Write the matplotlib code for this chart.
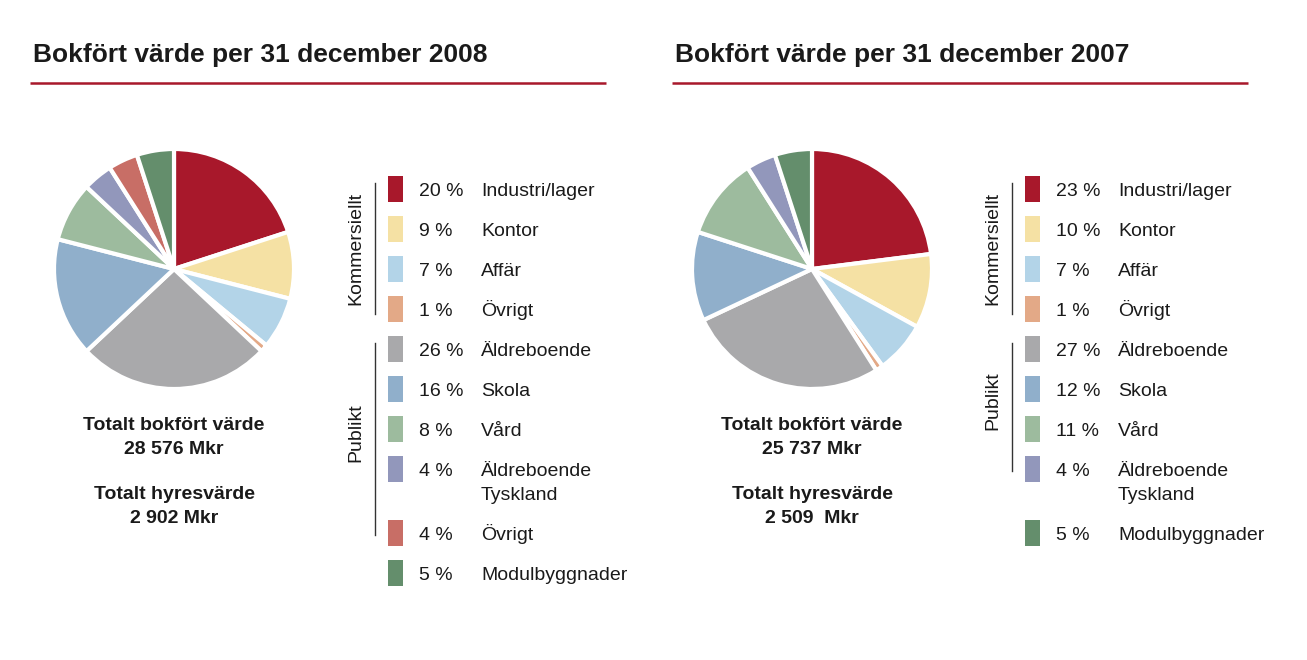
import matplotlib
matplotlib.use("Agg")
import matplotlib.pyplot as plt
from matplotlib.patches import Rectangle

plt.rcParams['font.family'] = ['Liberation Sans', 'DejaVu Sans']

# ---------------- data ----------------
titles = ["Bokfört värde per 31 december 2008", "Bokfört värde per 31 december 2007"]

cats_2008 = ["Industri/lager", "Kontor", "Affär", "Övrigt", "Äldreboende", "Skola",
             "Vård", "Äldreboende\nTyskland", "Övrigt", "Modulbyggnader"]
vals_2008 = [20, 9, 7, 1, 26, 16, 8, 4, 4, 5]
cols_2008 = ["#A8182B", "#F5E1A4", "#B3D4E8", "#E3A987", "#A9A9AB", "#90AFCB",
             "#9DBB9E", "#9297BB", "#C86E66", "#648E6C"]

cats_2007 = ["Industri/lager", "Kontor", "Affär", "Övrigt", "Äldreboende", "Skola",
             "Vård", "Äldreboende\nTyskland", "Modulbyggnader"]
vals_2007 = [23, 10, 7, 1, 27, 12, 11, 4, 5]
cols_2007 = ["#A8182B", "#F5E1A4", "#B3D4E8", "#E3A987", "#A9A9AB", "#90AFCB",
             "#9DBB9E", "#9297BB", "#648E6C"]

totals_2008 = ["Totalt bokfört värde", "28 576 Mkr", "Totalt hyresvärde", "2 902 Mkr"]
totals_2007 = ["Totalt bokfört värde", "25 737 Mkr", "Totalt hyresvärde", "2 509  Mkr"]

group_labels = ["Kommersiellt", "Publikt"]

# ---------------- figure ----------------
W, H = 1307, 660
fig = plt.figure(figsize=(W / 100, H / 100), dpi=100)
ov = fig.add_axes([0, 0, 1, 1])
ov.set_xlim(0, W)
ov.set_ylim(H, 0)
ov.axis("off")

RED = "#A8182B"
TXT = "#1a1a1a"
FS = 14


def panel(x0, pie_cx, title, cats, vals, cols, totals, leg_x, pub_end_row):
    # title and rule
    ov.text(x0 + 3, 62, title, fontsize=19, fontweight="bold", color=TXT,
            ha="left", va="baseline")
    ov.plot([x0, x0 + 576], [83, 83], color=RED, lw=1.8, solid_capstyle="butt")

    # pie
    cy, r = 269, 120
    pax = fig.add_axes([(pie_cx - r) / W, (H - cy - r) / H, 2 * r / W, 2 * r / H])
    pax.pie(vals, colors=cols, startangle=90, counterclock=False,
            wedgeprops=dict(edgecolor="white", linewidth=3.0))
    pax.set_xlim(-1.0, 1.0)
    pax.set_ylim(-1.0, 1.0)
    pax.set_aspect("equal")
    pax.axis("off")

    # totals
    for txt, y in zip(totals, [424, 448, 493, 517]):
        ov.text(pie_cx, y + 6, txt, fontsize=FS, fontweight="bold", color=TXT,
                ha="center", va="baseline")

    # legend
    ys = []
    y = 189
    for c in cats:
        ys.append(y)
        y += 64 if "\n" in c else 40
    for c, v, col, yy in zip(cats, vals, cols, ys):
        ov.add_patch(Rectangle((leg_x, yy - 13), 15, 26, facecolor=col, edgecolor="none"))
        ov.text(leg_x + 31, yy + 7, f"{v} %", fontsize=FS, color=TXT, ha="left",
                va="baseline")
        for k, line in enumerate(c.split("\n")):
            ov.text(leg_x + 93, yy + 7 + 24 * k, line, fontsize=FS, color=TXT,
                    ha="left", va="baseline")

    # group brackets
    lx = leg_x - 13
    ov.plot([lx, lx], [183, 314], color="#333333", lw=1.0)
    ov.text(lx - 19, 248, group_labels[0], fontsize=FS, color=TXT, rotation=90,
            ha="center", va="center")
    pub_bottom = ys[pub_end_row] + 2
    ov.plot([lx, lx], [343, pub_bottom], color="#333333", lw=1.0)
    ov.text(lx - 19, (343 + pub_bottom) / 2 - 6, group_labels[1], fontsize=FS,
            color=TXT, rotation=90, ha="center", va="center")


panel(30, 174, titles[0], cats_2008, vals_2008, cols_2008, totals_2008, 388, 8)
panel(672, 812, titles[1], cats_2007, vals_2007, cols_2007, totals_2007, 1025, 7)

fig.savefig("out.png", dpi=100, facecolor="white")
